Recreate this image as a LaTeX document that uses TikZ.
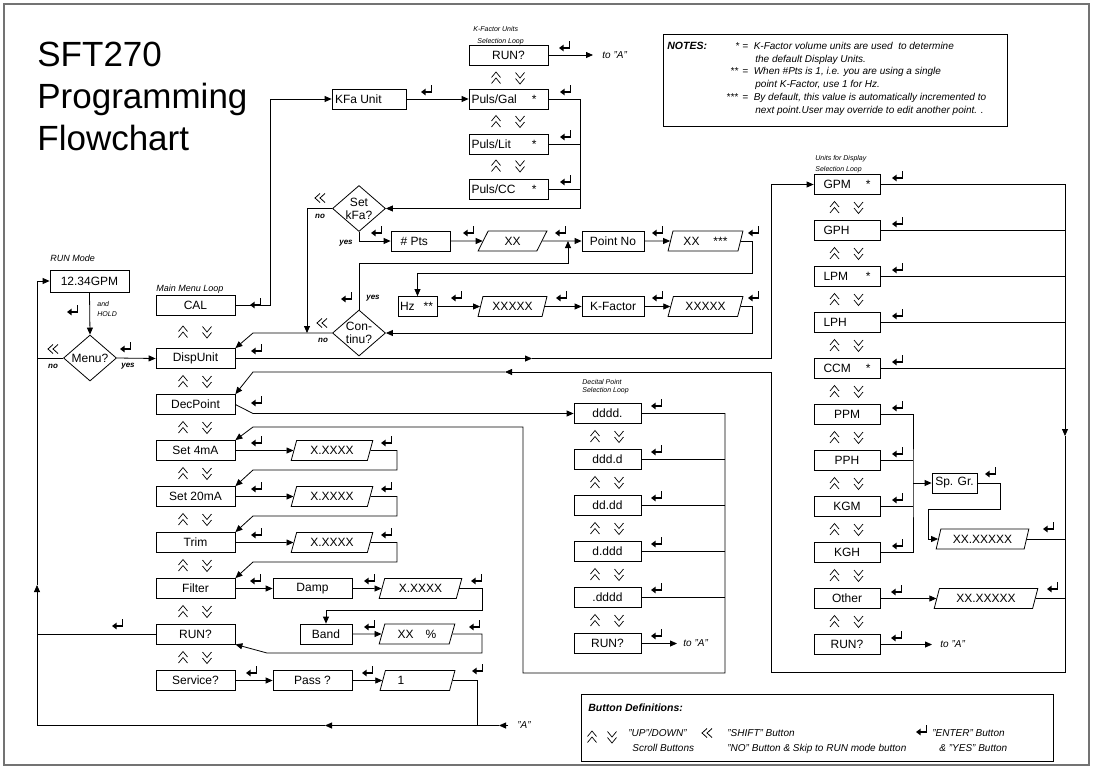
\documentclass[tikz,border=0pt]{standalone}
\usepackage{fontspec}
\setmainfont{Liberation Sans}
\usetikzlibrary{shapes.geometric,arrows.meta}

\tikzset{
  box/.style={draw, minimum width=79pt, minimum height=20pt, inner sep=0pt, font=\fontsize{12}{12}\selectfont},
  ubox/.style={box, minimum width=66pt},
  dbox/.style={box, minimum width=67pt},
  para/.style={draw, trapezium, trapezium left angle=68, trapezium right angle=112,
    trapezium stretches=true, minimum height=20pt, inner sep=0pt, font=\fontsize{12}{12}\selectfont},
  dia/.style={draw, diamond, minimum width=53pt, minimum height=46pt, inner sep=0pt},
  diatext/.style={align=center, inner sep=0pt, font=\fontsize{12}{13}\selectfont},
  looplbl/.style={anchor=base west, inner sep=0pt, font=\fontsize{7}{7}\selectfont\itshape},
  sidelbl/.style={anchor=base west, inner sep=0pt, font=\fontsize{9}{9}\selectfont\itshape},
  yn/.style={inner sep=0pt, font=\fontsize{8}{8}\selectfont\bfseries\itshape},
  toA/.style={anchor=west, inner sep=0pt, font=\fontsize{10}{10}\selectfont\itshape},
  note/.style={anchor=base west, inner sep=0pt, font=\fontsize{10}{10}\selectfont\itshape},
  notehead/.style={anchor=base west, inner sep=0pt, font=\fontsize{10.5}{10.5}\selectfont\bfseries\itshape},
  big/.style={anchor=base west, inner sep=0pt, font=\fontsize{35}{35}\selectfont},
  arr/.style={-{Triangle[length=7pt,width=6pt]}},
  enterkey/.pic={
    \fill (-6,1) -- (-1.5,-2.3) -- (-1.5,4.3) -- cycle;
    \draw[line width=1.6pt] (-2,1) -- (4.5,1) -- (4.5,-6);
  },
  upkey/.pic={
    \draw[line width=0.7pt] (-4.5,-0.5) -- (0,-6) -- (4.5,-0.5);
    \draw[line width=0.7pt] (-4.5,5.5) -- (0,0) -- (4.5,5.5);
  },
  downkey/.pic={
    \draw[line width=0.7pt] (-4.5,-5.5) -- (0,0) -- (4.5,-5.5);
    \draw[line width=0.7pt] (-4.5,0.5) -- (0,6) -- (4.5,0.5);
  },
  shiftkey/.pic={
    \draw[line width=0.8pt] (0,-4.5) -- (-5,0) -- (0,4.5);
    \draw[line width=0.8pt] (5,-4.5) -- (0,0) -- (5,4.5);
  }
}
\newcommand\updown[2]{\pic at ({#1-12.5},#2) {upkey}; \pic at ({#1+11.5},#2) {downkey};}

\begin{document}
\begin{tikzpicture}[x=1pt, y=-1pt, line width=0.8pt]
  \useasboundingbox (0,0) rectangle (1093,769);
  \node[draw=black!55, line width=1.2pt, minimum width=1085pt, minimum height=761pt, inner sep=0pt] (Frame) at (546.5,384.5) {};

  % title
  \node[big] (TitleA) at (37,66) {SFT270};
  \node[big] (TitleB) at (37,108) {Programming};
  \node[big] (TitleC) at (37,150) {Flowchart};

  % run mode
  \node[sidelbl] (RunModeLbl) at (50,261) {RUN Mode};
  \node[box, minimum height=22pt] (RunMode) at (89.5,281) {12.34GPM};
  \node[looplbl] (AndLbl) at (97,306) {and};
  \node[looplbl] (HoldLbl) at (97,316) {HOLD};
  \node[dia] (Menu) at (90,358) {};
  \node[diatext] (MenuTxt) at (Menu) {Menu?};
  \node[yn] (MenuNo) at (53,366) {no};
  \node[yn] (MenuYes) at (128,366) {yes};

  % main menu loop
  \node[sidelbl] (MainLbl) at (156,291) {Main Menu Loop};
  \node[box] (Cal) at (195.5,305.5) {CAL};
  \node[box] (DispUnit) at (195.5,358.5) {DispUnit};
  \node[box] (DecPoint) at (195.5,404.5) {DecPoint};
  \node[box] (SetFour) at (195.5,450.5) {Set 4mA};
  \node[box] (SetTwenty) at (195.5,496.5) {Set 20mA};
  \node[box] (Trim) at (195.5,542.5) {Trim};
  \node[box] (Filter) at (195.5,588.5) {Filter};
  \node[box] (RunQ) at (195.5,634) {RUN?};
  \node[box] (Service) at (195.5,680.5) {Service?};
  \updown{195.5}{332}
  \foreach \y in {381.5,427.5,473.5,519.5,565.5,611.5,657.5} {\updown{195.5}{\y}}

  \node[para, minimum width=82pt] (ParFour) at (332,450.5) {X.XXXX};
  \node[para, minimum width=82pt] (ParTwenty) at (332,496.5) {X.XXXX};
  \node[para, minimum width=82pt] (ParTrim) at (332,542.5) {X.XXXX};
  \node[box] (Damp) at (312.5,588.5) {Damp};
  \node[para, minimum width=83pt] (ParDamp) at (420.5,588.5) {X.XXXX};
  \node[box, minimum width=52pt] (Band) at (326,634) {Band};
  \node[para, minimum width=76pt] (ParBand) at (417,634) {XX\hspace{12pt}\%};
  \node[box] (Pass) at (312.5,680.5) {Pass ?};
  \node[para, minimum width=75pt] (ParPass) at (417.5,680.5) {\makebox[40pt][l]{1}};

  % k-factor units loop
  \node[box, minimum width=74pt] (KfaUnit) at (369,99) {\makebox[68pt][l]{KFa Unit}};
  \node[looplbl] (KLblA) at (473,31) {K-Factor Units};
  \node[looplbl] (KLblB) at (477,43) {Selection Loop};
  \node[box] (KRun) at (508.5,55) {RUN?};
  \node[box] (PulsGal) at (508.5,99) {\makebox[74pt][l]{Puls/Gal\hfill*\hspace{9pt}}};
  \node[box] (PulsLit) at (508.5,144) {\makebox[74pt][l]{Puls/Lit\hfill*\hspace{9pt}}};
  \node[box] (PulsCC) at (508.5,189.5) {\makebox[74pt][l]{Puls/CC\hfill*\hspace{9pt}}};
  \updown{508.5}{78}
  \updown{508.5}{121.5}
  \updown{508.5}{166}
  \node[toA] (KRunTo) at (602,55) {to "A"};

  % k-factor points
  \node[dia] (SetKfa) at (359,208.5) {};
  \node[diatext] (SetKfaTxt) at (SetKfa) {Set\\kFa?};
  \node[yn] (SetKfaNo) at (320,216) {no};
  \node[yn] (SetKfaYes) at (346,243) {yes};
  \node[box, minimum width=59pt] (Pts) at (420.5,241) {\makebox[40pt][l]{\# Pts}};
  \node[para, minimum width=69pt] (XxA) at (512.5,241) {XX};
  \node[box, minimum width=62pt] (PointNo) at (613,241) {Point No};
  \node[para, minimum width=75pt] (XxB) at (705.5,241) {XX\hspace{14pt}***};
  \node[box, minimum width=39pt] (Hz) at (417.5,306.5) {\makebox[35pt][l]{Hz\hspace{9pt}**}};
  \node[para, minimum width=69pt] (XxC) at (512.5,306.5) {XXXXX};
  \node[box, minimum width=62pt] (KFactor) at (613,306.5) {K-Factor};
  \node[para, minimum width=75pt] (XxD) at (705.5,306.5) {XXXXX};
  \node[dia] (Continu) at (359,333) {};
  \node[diatext] (ContinuTxt) at (Continu) {Con-\\tinu?};
  \node[yn] (ContinuYes) at (373,298) {yes};
  \node[yn] (ContinuNo) at (323,340) {no};

  % decimal point loop
  \node[looplbl] (DecLblA) at (582,384) {Decital Point};
  \node[looplbl] (DecLblB) at (582,392) {Selection Loop};
  \node[dbox] (DdddA) at (607.5,413.5) {dddd.};
  \node[dbox] (DdddB) at (607.5,459.5) {ddd.d};
  \node[dbox] (DdddC) at (607.5,505.5) {dd.dd};
  \node[dbox] (DdddD) at (607.5,551.5) {d.ddd};
  \node[dbox] (DdddE) at (607.5,597.5) {.dddd};
  \node[dbox] (DRun) at (607.5,643.5) {RUN?};
  \foreach \y in {436.5,482.5,528.5,574.5,620.5} {\updown{607.5}{\y}}
  \node[toA] (DRunTo) at (683,643.5) {to "A"};

  % units for display loop
  \node[looplbl] (ULblA) at (815,160) {Units for Display};
  \node[looplbl] (ULblB) at (815,171) {Selection Loop};
  \node[ubox] (Gpm) at (847,184.5) {\makebox[47pt][l]{GPM\hfill*}};
  \node[ubox] (Gph) at (847,230.5) {\makebox[47pt][l]{GPH}};
  \node[ubox] (Lpm) at (847,276.5) {\makebox[47pt][l]{LPM\hfill*}};
  \node[ubox] (Lph) at (847,322.5) {\makebox[47pt][l]{LPH}};
  \node[ubox] (Ccm) at (847,368.5) {\makebox[47pt][l]{CCM\hfill*}};
  \node[ubox] (Ppm) at (847,414.5) {PPM};
  \node[ubox] (Pph) at (847,460.5) {PPH};
  \node[ubox] (Kgm) at (847,506.5) {KGM};
  \node[ubox] (Kgh) at (847,552.5) {KGH};
  \node[ubox] (Other) at (847,598.5) {Other};
  \node[ubox] (URun) at (847,644.5) {RUN?};
  \foreach \y in {207.5,253.5,299.5,345.5,391.5,437.5,483.5,529.5,575.5,621.5} {\updown{847}{\y}}
  \node[box, minimum width=45pt] (SpGr) at (954.5,483) {Sp. Gr.};
  \node[para, minimum width=93pt] (XxE) at (982.5,539) {XX.XXXXX};
  \node[para, minimum width=104pt] (XxF) at (986,598.5) {XX.XXXXX};
  \node[toA] (URunTo) at (940,644.5) {to "A"};

  % enter keys
  \foreach \x/\y in {73/311, 126/348, 256/304, 257/350, 257/402, 257/442, 387/442,
      257/488, 387/488, 257/534, 387/534, 256/580, 370/580, 477/580, 370/626, 475/626,
      118/625, 252/672, 368/672, 478/670, 427/91, 565/47, 566/91, 566/136, 566/181,
      377/232, 469/232, 561/232, 658/232, 754/232, 347/298, 457/297, 562/297, 658/297,
      754/297, 657/405, 657/451, 657/497, 657/543, 657/589, 657/635, 898/177, 898/223,
      898/269, 898/315, 898/361, 898/407, 898/453, 898/499, 898/545, 897/591, 897/637,
      991/473, 1049/528, 1053/588}
    \pic at (\x,\y) {enterkey};
  \pic at (53,349) {shiftkey};
  \pic at (320,198) {shiftkey};
  \pic at (322,323) {shiftkey};

  % connectors: run mode and main bus
  \coordinate (BusTop) at (37,281);
  \coordinate (BusUp) at (37,585);
  \coordinate (BusBot) at (37,725.5);
  \coordinate (BusArr) at (325,725.5);
  \coordinate (ABus) at (477,725.5);
  \coordinate (ATip) at (499,725.5);
  \coordinate (AEnd) at (508,725.5);
  \draw[arr] (BusTop) -- (RunMode.west);
  \draw[arr] (BusBot) -- (BusUp);
  \draw (BusUp) -- (BusTop);
  \draw (Menu.west) -- (Menu.west -| BusTop);
  \draw (RunQ.west) -- (RunQ.west -| BusTop);
  \draw[arr] (RunMode.south) -- (Menu.north);
  \draw[arr] (Menu.east) -- (DispUnit.west);
  \draw[arr] (ParPass.east) -| (ABus) -- (BusArr);
  \draw (BusArr) -- (BusBot);
  \draw[arr] (AEnd) -- (ATip);
  \draw (ATip) -- (ABus);
  \node[toA] (ALbl) at (517,725.5) {"A"};

  % connectors: k-factor
  \draw[arr] (Cal.east) -- ++(35,0) |- (KfaUnit.west);
  \draw[arr] (KfaUnit.east) -- (PulsGal.west);
  \coordinate (KBus) at (580,99);
  \draw[arr] (PulsGal.east) -| (SetKfa.east -| KBus) -- (SetKfa.east);
  \draw (PulsLit.east) -- (PulsLit.east -| KBus);
  \draw (PulsCC.east) -- (PulsCC.east -| KBus);
  \coordinate (KRunA) at (593,55);
  \draw[arr] (KRun.east) -- (KRunA);
  \coordinate (NoDrop) at (307,333);
  \draw[arr] (SetKfa.west) -| (NoDrop);
  \coordinate (DispKnee) at (253,333);
  \draw[arr] (Continu.west) -- (DispKnee) -- (DispUnit.north east);
  \draw[arr] (SetKfa.south) |- (Pts.west);
  \draw[arr] (Pts.east) -- (XxA.west);
  \draw[arr] (XxA.east) -- (PointNo.west);
  \draw[arr] (PointNo.east) -- (XxB.west);
  \coordinate (HzKnee) at (752,273);
  \draw[arr] (XxB.east) -| (HzKnee) -| (Hz.north);
  \draw[arr] (Hz.east) -- (XxC.west);
  \draw[arr] (XxC.east) -- (KFactor.west);
  \draw[arr] (KFactor.east) -- (XxD.west);
  \coordinate (ContKnee) at (752,333);
  \draw[arr] (XxD.east) -| (ContKnee) -- (Continu.east);
  \coordinate (YesKnee) at (568,263);
  \coordinate (YesJoin) at (568,241);
  \draw[arr] (Continu.north) |- (YesKnee) -- (YesJoin);

  % connectors: display units
  \coordinate (DispMid) at (532,358.5);
  \coordinate (DispBus) at (771,358.5);
  \draw[arr] (DispUnit.east) -- (DispMid);
  \draw[arr] (DispMid) -- (DispBus) |- (Gpm.west);
  \coordinate (UBus) at (1065,184.5);
  \coordinate (UArr) at (1065,436);
  \coordinate (UCorner) at (1065,672);
  \coordinate (UBack) at (771,672);
  \coordinate (UTurn) at (771,372);
  \coordinate (ULeft) at (505,372);
  \coordinate (DecKnee) at (253,372);
  \draw[arr] (Gpm.east) -| (UArr);
  \draw (UArr) -- (UCorner) -- (UBack) -- (UTurn);
  \draw[arr] (UTurn) -- (ULeft);
  \draw[arr] (ULeft) -- (DecKnee) -- (DecPoint.north east);
  \foreach \n in {Gph,Lpm,Lph,Ccm,XxE,XxF} \draw (\n.east) -- (\n.east -| UBus);
  \coordinate (SBus) at (913,483);
  \draw (Ppm.east) -| (SBus) |- (Kgh.east);
  \draw (Pph.east) -- (Pph.east -| SBus);
  \draw (Kgm.east) -- (Kgm.east -| SBus);
  \draw[arr] (SBus) -- (SpGr.west);
  \coordinate (SpKnee) at (1000,509);
  \coordinate (SpBack) at (928,509);
  \draw[arr] (SpGr.east) -| (SpKnee) -- (SpBack) |- (XxE.west);
  \draw[arr] (Other.east) -- (XxF.west);
  \coordinate (URunA) at (932,644.5);
  \draw[arr] (URun.east) -- (URunA);

  % connectors: decimal point
  \coordinate (DecSlope) at (253,413.5);
  \draw[arr] (DecPoint.east) -- (DecSlope) -- (DdddA.west);
  \coordinate (DBus) at (725,673);
  \coordinate (DRet) at (523,673);
  \coordinate (DUp) at (523,427);
  \coordinate (FourKnee) at (253,427);
  \draw[arr] (DdddA.east) -| (DBus) -- (DRet) -- (DUp) -- (FourKnee) -- (SetFour.north east);
  \foreach \n in {DdddB,DdddC,DdddD,DdddE} \draw (\n.east) -- (\n.east -| DBus);
  \coordinate (DRunA) at (677,643.5);
  \draw[arr] (DRun.east) -- (DRunA);

  % connectors: output and filter
  \draw[arr] (SetFour.east) -- (ParFour.west);
  \draw[arr] (SetTwenty.east) -- (ParTwenty.west);
  \draw[arr] (Trim.east) -- (ParTrim.west);
  \coordinate (TwentyKnee) at (397,470);
  \coordinate (TrimKnee) at (397,516);
  \coordinate (FilterKnee) at (397,562);
  \draw[arr] (ParFour.east) -| (TwentyKnee) -- (TwentyKnee -| FourKnee) -- (SetTwenty.north east);
  \draw[arr] (ParTwenty.east) -| (TrimKnee) -- (TrimKnee -| FourKnee) -- (Trim.north east);
  \draw[arr] (ParTrim.east) -| (FilterKnee) -- (FilterKnee -| FourKnee) -- (Filter.north east);
  \draw[arr] (Filter.east) -- (Damp.west);
  \draw[arr] (Damp.east) -- (ParDamp.west);
  \coordinate (BandKnee) at (482,610);
  \draw[arr] (ParDamp.east) -| (BandKnee) -| (Band.north);
  \draw[arr] (Band.east) -- (ParBand.west);
  \coordinate (RunKnee) at (482,653);
  \coordinate (RunSlope) at (267,653);
  \draw[arr] (ParBand.east) -| (RunKnee) -- (RunSlope) -- (RunQ.south east);
  \draw[arr] (Service.east) -- (Pass.west);
  \draw[arr] (Pass.east) -- (ParPass.west);

  % notes
  \node[draw, minimum width=344pt, minimum height=92pt, inner sep=0pt] (Notes) at (835,80) {};
  \node[notehead] (NotesHead) at (667,49.5) {NOTES:};
  \node[note] (StarA) at (735,49.5) {*};
  \node[note] (NoteA) at (742,49.5) {=\ \ K-Factor volume units are used\ \ to determine};
  \node[note] (NoteA2) at (755,62.5) {the default Display Units.};
  \node[note] (StarB) at (730,74.5) {**};
  \node[note] (NoteB) at (742,74.5) {=\ \ When \#Pts is 1, i.e. you are using a single};
  \node[note] (NoteB2) at (755,87) {point K-Factor, use 1 for Hz.};
  \node[note] (StarC) at (726,100.5) {***};
  \node[note] (NoteC) at (742,100.5) {=\ \ By default, this value is automatically incremented to};
  \node[note] (NoteC2) at (755,113.5) {next point.User may override to edit another point. .};

  % button definitions
  \node[draw, minimum width=472pt, minimum height=67pt, inner sep=0pt] (Buttons) at (817,727.5) {};
  \node[notehead] (ButtonsHead) at (588,711) {Button Definitions:};
  \pic at (592,737) {upkey};
  \pic at (612,737) {downkey};
  \node[note] (UpDownA) at (628,736) {"UP"/DOWN"};
  \node[note] (UpDownB) at (632,751) {Scroll Buttons};
  \pic at (707,733) {shiftkey};
  \node[note] (ShiftA) at (727,736) {"SHIFT" Button};
  \node[note] (ShiftB) at (727,751) {"NO" Button \& Skip to RUN mode button};
  \pic at (922,731) {enterkey};
  \node[note] (EnterA) at (932,736) {"ENTER" Button};
  \node[note] (EnterB) at (939,751) {\& "YES" Button};
\end{tikzpicture}
\end{document}
